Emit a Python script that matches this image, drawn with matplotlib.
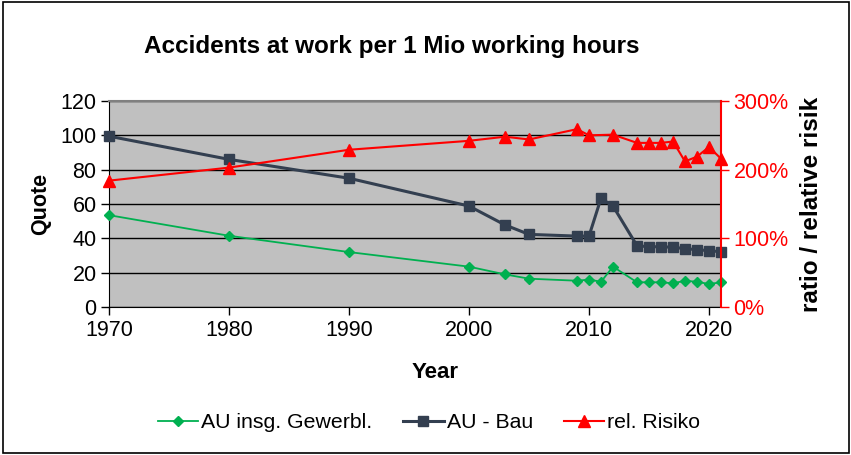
import numpy as np
import matplotlib.pyplot as plt
from matplotlib.patches import Rectangle
from matplotlib.ticker import FuncFormatter

plt.rcParams['font.family'] = ['Liberation Sans', 'DejaVu Sans']

# ==================== data ====================
years = [1970, 1980, 1990, 2000, 2003, 2005, 2009, 2010, 2011, 2012,
         2014, 2015, 2016, 2017, 2018, 2019, 2020, 2021]
au_gewerbl = [53.5, 41.5, 32, 23.5, 19, 16.5, 15.3, 16, 14.7, 23.5,
              14.4, 14.4, 14.4, 13.8, 15.3, 14.7, 13.4, 14.4]
au_bau = [99.5, 86, 75, 58.8, 47.8, 42.3, 41.3, 41.3, 63.3, 58.8,
          35.7, 35.1, 35.1, 34.8, 34.0, 33.4, 32.8, 32.2]
# rel. Risiko in percent (no value for 2011)
risk_years = [1970, 1980, 1990, 2000, 2003, 2005, 2009, 2010, 2012,
              2014, 2015, 2016, 2017, 2018, 2019, 2020, 2021]
rel_risiko = [184, 203, 229, 242, 248, 244, 259, 250, 251,
              239, 239, 239, 241, 212, 219, 233, 216]

green = '#00b050'
navy = '#333f50'
red = '#ff0000'

fig = plt.figure(figsize=(8.51, 4.55), dpi=100)
ax = fig.add_axes([109 / 851, 1 - 307 / 455, (721 - 109) / 851, (307 - 101) / 455])
ax.set_facecolor('#c0c0c0')

l1, = ax.plot(years, au_gewerbl, color=green, lw=1.3, marker='D', ms=5.5,
              label='AU insg. Gewerbl.', zorder=3, clip_on=False)
l2, = ax.plot(years, au_bau, color=navy, lw=2.2, marker='s', ms=7.5,
              label='AU - Bau', zorder=3, clip_on=False)

ax.set_xlim(1970, 2021)
ax.set_ylim(0, 120)
ax.set_xticks([1970, 1980, 1990, 2000, 2010, 2020])
ax.set_yticks(range(0, 121, 20))
ax.yaxis.grid(True, color='black', lw=1)
ax.set_axisbelow(True)
ax.tick_params(labelsize=15.5, length=6, width=1, color='black', pad=3)
ax.spines['top'].set_color('#808080')
ax.spines['top'].set_linewidth(1.5)
ax.spines['right'].set_visible(False)

ax.set_xlabel('Year', fontsize=16, fontweight='bold')
ax.xaxis.set_label_coords((435 - 109) / 612, (307 - 362) / 206)
ax.set_ylabel('Quote', fontsize=15.5, fontweight='bold')
ax.yaxis.set_label_coords((51 - 109) / 612, 0.5)

ax2 = ax.twinx()
l3, = ax2.plot(risk_years, rel_risiko, color=red, lw=1.5, marker='^', ms=8.5,
               label='rel. Risiko', zorder=3, clip_on=False)
ax2.set_ylim(0, 300)
ax2.set_yticks([0, 100, 200, 300])
ax2.yaxis.set_major_formatter(FuncFormatter(lambda v, p: f'{v:.0f}%'))
ax2.tick_params(axis='y', labelsize=15.5, colors=red, length=6, width=1, pad=3)
ax2.spines['right'].set_color(red)
ax2.spines['right'].set_linewidth(1.5)
ax2.spines['top'].set_visible(False)
ax2.spines['left'].set_visible(False)
ax2.spines['bottom'].set_visible(False)
ax2.set_ylabel('ratio / relative risik', fontsize=17.5, fontweight='bold')
ax2.yaxis.set_label_coords((800 - 109) / 612, 0.5)

fig.text(392 / 851, 1 - 46 / 455, 'Accidents at work per 1 Mio working hours',
         ha='center', va='center', fontsize=17.5, fontweight='bold')

fig.legend(handles=[l1, l2, l3], loc='center', bbox_to_anchor=(429 / 851, 1 - 423 / 455),
           ncol=3, frameon=False, fontsize=15.3, handlelength=1.9, columnspacing=1.45,
           handletextpad=0.15, borderpad=0)

fig.patches.append(Rectangle((3 / 851, 2 / 455), 846 / 851, 451 / 455, transform=fig.transFigure,
                             fill=False, edgecolor='black', lw=1.2))

plt.savefig('out.png', dpi=100)
